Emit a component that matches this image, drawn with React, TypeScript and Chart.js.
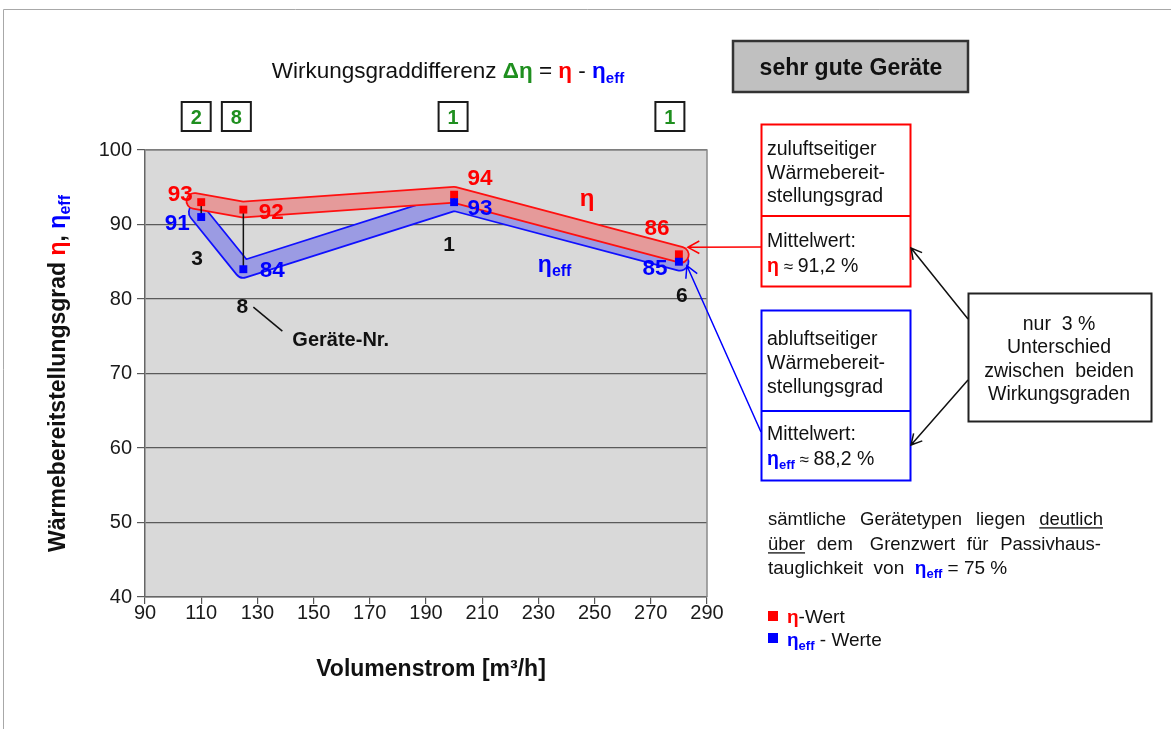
import React, { useEffect, useRef } from 'react';
import { Chart, registerables } from 'chart.js';
Chart.register(...registerables);

const W = 1171, H = 729;
const FONT = '"Liberation Sans", Arial, Helvetica, sans-serif';

// ---- data ----
const flowRates = [110, 125, 200, 280];
const etaValues = [93, 92, 94, 86];
const etaEffValues = [91, 84, 93, 85];
const deviceNumbers = ['3', '8', '1', '6'];
const deviceCounts = ['2', '8', '1', '1'];
const xAxisRange = [90, 290, 20];
const yAxisRange = [40, 100, 10];
const meanEta = '91,2 %';
const meanEtaEff = '88,2 %';
const passivLimit = '75 %';

const RED = '#ff0000', BLUE = '#0000ff', GREEN = '#1f8f1f', BLACK = '#111111';

type Part = { t: string; c?: string; b?: boolean; sub?: boolean; u?: boolean; sm?: boolean };

function partFont(p: Part, size: number) {
  const s = p.sub ? Math.round(size * 0.68) : p.sm ? Math.round(size * 0.85) : size;
  return `${p.b ? 'bold ' : ''}${s}px ${FONT}`;
}
function richWidth(ctx: CanvasRenderingContext2D, parts: Part[], size: number) {
  let w = 0;
  for (const p of parts) { ctx.font = partFont(p, size); w += ctx.measureText(p.t).width; }
  return w;
}
function drawRich(ctx: CanvasRenderingContext2D, parts: Part[], x: number, yc: number, size: number, align = 'left') {
  const tw = richWidth(ctx, parts, size);
  let cx = align === 'center' ? x - tw / 2 : align === 'right' ? x - tw : x;
  const y = yc + size * 0.36;
  ctx.textBaseline = 'alphabetic';
  ctx.textAlign = 'left';
  for (const p of parts) {
    ctx.font = partFont(p, size);
    ctx.fillStyle = p.c || BLACK;
    const w = ctx.measureText(p.t).width;
    const yy = p.sub ? y + size * 0.2 : y;
    ctx.fillText(p.t, cx, yy);
    if (p.u) ctx.fillRect(cx, y + size * 0.14, w, 1.3);
    cx += w;
  }
}
function drawJustified(ctx: CanvasRenderingContext2D, words: Part[][], x0: number, x1: number, yc: number, size: number) {
  const ws = words.map((w) => richWidth(ctx, w, size));
  const total = ws.reduce((a, b) => a + b, 0);
  const gap = (x1 - x0 - total) / (words.length - 1);
  let x = x0;
  words.forEach((w, i) => { drawRich(ctx, w, x, yc, size); x += ws[i] + gap; });
}
function arrowHead(ctx: CanvasRenderingContext2D, fx: number, fy: number, tx: number, ty: number, len = 12) {
  const a = Math.atan2(ty - fy, tx - fx);
  ctx.beginPath();
  ctx.moveTo(fx, fy); ctx.lineTo(tx, ty);
  ctx.moveTo(tx - len * Math.cos(a - 0.5), ty - len * Math.sin(a - 0.5));
  ctx.lineTo(tx, ty);
  ctx.lineTo(tx - len * Math.cos(a + 0.5), ty - len * Math.sin(a + 0.5));
  ctx.stroke();
}
const etaEff = (): Part[] => [{ t: 'η', c: BLUE, b: true }, { t: 'eff', c: BLUE, b: true, sub: true }];

function bandStroke(ctx: CanvasRenderingContext2D, pts: { x: number; y: number }[], extA: number, extB: number, width: number, outline: string, fill: string) {
  const p = pts.map((q) => ({ ...q }));
  const ext = (a: { x: number; y: number }, b: { x: number; y: number }, d: number) => {
    const dx = a.x - b.x, dy = a.y - b.y, l = Math.hypot(dx, dy) || 1;
    return { x: a.x + (dx / l) * d, y: a.y + (dy / l) * d };
  };
  p[0] = ext(pts[0], pts[1], extA);
  p[p.length - 1] = ext(pts[pts.length - 1], pts[pts.length - 2], extB);
  ctx.beginPath();
  p.forEach((q, i) => (i ? ctx.lineTo(q.x, q.y) : ctx.moveTo(q.x, q.y)));
  ctx.lineJoin = 'round';
  ctx.lineCap = 'round';
  ctx.strokeStyle = outline; ctx.lineWidth = width; ctx.stroke();
  ctx.strokeStyle = fill; ctx.lineWidth = width - 3.5; ctx.stroke();
}

const decoPlugin = {
  id: 'deco',
  beforeDraw(chart: any) {
    const { ctx, chartArea: a } = chart;
    ctx.save();
    ctx.fillStyle = '#ffffff';
    ctx.fillRect(0, 0, W, H);
    ctx.strokeStyle = '#a8a8a8';
    ctx.lineWidth = 1;
    ctx.beginPath(); ctx.moveTo(3.5, H); ctx.lineTo(3.5, 9.5); ctx.lineTo(W, 9.5); ctx.stroke();
    ctx.fillStyle = '#d9d9d9';
    ctx.fillRect(a.left, a.top, a.right - a.left, a.bottom - a.top);
    ctx.restore();
  },
  beforeDatasetsDraw(chart: any) {
    const { ctx } = chart;
    const xs = chart.scales.x, ys = chart.scales.y;
    const etaPts = flowRates.map((f, i) => ({ x: xs.getPixelForValue(f), y: ys.getPixelForValue(etaValues[i]) }));
    const effPts = flowRates.map((f, i) => ({ x: xs.getPixelForValue(f), y: ys.getPixelForValue(etaEffValues[i]) }));
    ctx.save();
    bandStroke(ctx, effPts, 6, 1, 19, '#1010ff', '#9b9be3');
    bandStroke(ctx, etaPts, 7, 2, 17.5, '#ff1010', '#e59a9a');
    ctx.strokeStyle = '#111';
    ctx.lineWidth = 1.5;
    ctx.lineCap = 'butt';
    flowRates.forEach((_, i) => {
      ctx.beginPath(); ctx.moveTo(etaPts[i].x, etaPts[i].y); ctx.lineTo(effPts[i].x, effPts[i].y); ctx.stroke();
    });
    ctx.restore();
  },
  afterDraw(chart: any) {
    const { ctx, chartArea: a } = chart;
    const xs = chart.scales.x, ys = chart.scales.y;
    ctx.save();
    // plot border top/right
    ctx.strokeStyle = '#8a8a8a'; ctx.lineWidth = 1.5;
    ctx.beginPath(); ctx.moveTo(a.left, a.top); ctx.lineTo(a.right, a.top); ctx.lineTo(a.right, a.bottom); ctx.stroke();

    // value labels
    const etaOff = [[-21, -9], [28, 1], [26, -18], [-22, -27]];
    const effOff = [[-24, 5], [29, 0], [26, 5], [-24, 5]];
    const devOff = [[-4, 40], [-1, 36], [-5, 41], [3, 33]];
    const boxOff = [-5, -7, -1, -9];
    flowRates.forEach((f, i) => {
      const px = xs.getPixelForValue(f);
      const pe = ys.getPixelForValue(etaValues[i]);
      const pf = ys.getPixelForValue(etaEffValues[i]);
      drawRich(ctx, [{ t: String(etaValues[i]), c: RED, b: true }], px + etaOff[i][0], pe + etaOff[i][1], 22.5, 'center');
      drawRich(ctx, [{ t: String(etaEffValues[i]), c: BLUE, b: true }], px + effOff[i][0], pf + effOff[i][1], 22.5, 'center');
      drawRich(ctx, [{ t: deviceNumbers[i], b: true }], px + devOff[i][0], pf + devOff[i][1], 21, 'center');
      // count boxes
      const bx = px + boxOff[i];
      ctx.strokeStyle = '#1a1a1a'; ctx.lineWidth = 2;
      ctx.strokeRect(bx - 14.5, 102, 29, 29);
      drawRich(ctx, [{ t: deviceCounts[i], c: GREEN, b: true }], bx, 116.5, 20, 'center');
    });
    // Geräte-Nr. pointer from device "8"
    {
      const px = xs.getPixelForValue(flowRates[1]) - 1;
      const py = ys.getPixelForValue(etaEffValues[1]) + 36;
      ctx.strokeStyle = '#111'; ctx.lineWidth = 1.5;
      ctx.beginPath(); ctx.moveTo(px + 11, py + 2); ctx.lineTo(px + 40, py + 26); ctx.stroke();
      drawRich(ctx, [{ t: 'Geräte-Nr.', b: true }], px + 50, py + 34, 20, 'left');
    }
    // series labels
    drawRich(ctx, [{ t: 'η', c: RED, b: true }], xs.getPixelForValue(247.3), ys.getPixelForValue(93.6), 24, 'center');
    drawRich(ctx, etaEff(), xs.getPixelForValue(229.8), ys.getPixelForValue(84.8), 23, 'left');

    // title
    drawRich(ctx, [
      { t: 'Wirkungsgraddifferenz ' },
      { t: 'Δη', c: GREEN, b: true },
      { t: ' = ' },
      { t: 'η', c: RED, b: true },
      { t: ' - ' },
      ...etaEff(),
    ], 448, 70, 22.5, 'center');

    // axis titles
    drawRich(ctx, [{ t: 'Volumenstrom [m³/h]', b: true }], 431, 668, 23, 'center');
    ctx.save();
    ctx.translate(57, (a.top + a.bottom) / 2);
    ctx.rotate(-Math.PI / 2);
    drawRich(ctx, [
      { t: 'Wärmebereitstellungsgrad ', b: true },
      { t: 'η', c: RED, b: true },
      { t: ', ', b: true },
      ...etaEff(),
    ], 0, 0, 23, 'center');
    ctx.restore();

    // sehr gute Geräte
    ctx.fillStyle = '#c0c0c0';
    ctx.fillRect(733, 41, 235, 51);
    ctx.strokeStyle = '#333'; ctx.lineWidth = 2.5;
    ctx.strokeRect(733, 41, 235, 51);
    drawRich(ctx, [{ t: 'sehr gute Geräte', b: true }], 851, 67, 23, 'center');

    const BS = 19.5;
    // red box
    ctx.strokeStyle = RED; ctx.lineWidth = 2;
    ctx.strokeRect(761.5, 124.5, 149, 162);
    ctx.beginPath(); ctx.moveTo(761.5, 216); ctx.lineTo(910.5, 216); ctx.stroke();
    drawRich(ctx, [{ t: 'zuluftseitiger' }], 767, 148, BS);
    drawRich(ctx, [{ t: 'Wärmebereit-' }], 767, 171.5, BS);
    drawRich(ctx, [{ t: 'stellungsgrad' }], 767, 195, BS);
    drawRich(ctx, [{ t: 'Mittelwert:' }], 767, 240, BS);
    drawRich(ctx, [{ t: 'η', c: RED, b: true }, { t: ' ≈ ', sm: true }, { t: meanEta }], 767, 265, BS);
    // blue box
    ctx.strokeStyle = BLUE; ctx.lineWidth = 2;
    ctx.strokeRect(761.5, 310.5, 149, 170);
    ctx.beginPath(); ctx.moveTo(761.5, 411); ctx.lineTo(910.5, 411); ctx.stroke();
    drawRich(ctx, [{ t: 'abluftseitiger' }], 767, 338, BS);
    drawRich(ctx, [{ t: 'Wärmebereit-' }], 767, 362, BS);
    drawRich(ctx, [{ t: 'stellungsgrad' }], 767, 385.5, BS);
    drawRich(ctx, [{ t: 'Mittelwert:' }], 767, 433, BS);
    drawRich(ctx, [...etaEff(), { t: ' ≈ ', sm: true }, { t: meanEtaEff }], 767, 458, BS);
    // black box
    ctx.strokeStyle = '#222'; ctx.lineWidth = 2;
    ctx.strokeRect(968.5, 293.5, 183, 128);
    drawRich(ctx, [{ t: 'nur  3 %' }], 1059, 323, BS, 'center');
    drawRich(ctx, [{ t: 'Unterschied' }], 1059, 346, BS, 'center');
    drawRich(ctx, [{ t: 'zwischen  beiden' }], 1059, 370, BS, 'center');
    drawRich(ctx, [{ t: 'Wirkungsgraden' }], 1059, 393, BS, 'center');

    // arrows
    ctx.lineWidth = 1.5; ctx.strokeStyle = '#111'; ctx.lineCap = 'butt';
    arrowHead(ctx, 968, 319, 911, 248);
    arrowHead(ctx, 968, 380, 911, 445);
    const endX = xs.getPixelForValue(flowRates[3]);
    ctx.strokeStyle = RED;
    arrowHead(ctx, 761, 247, endX + 9, ys.getPixelForValue(etaValues[3]) - 7, 13);
    ctx.strokeStyle = BLUE;
    arrowHead(ctx, 761, 432, endX + 8, ys.getPixelForValue(etaEffValues[3]) + 4, 13);

    // bottom note
    const NS = 18.5;
    drawJustified(ctx, [[{ t: 'sämtliche' }], [{ t: 'Gerätetypen' }], [{ t: 'liegen' }], [{ t: 'deutlich', u: true }]], 768, 1103, 518, NS);
    drawJustified(ctx, [[{ t: 'über', u: true }], [{ t: 'dem' }], [{ t: ' Grenzwert' }], [{ t: 'für' }], [{ t: 'Passivhaus-' }]], 768, 1101, 543, NS);
    drawRich(ctx, [{ t: 'tauglichkeit  von  ' }, ...etaEff(), { t: ' = ' + passivLimit }], 768, 567, 19);

    // legend
    ctx.fillStyle = RED; ctx.fillRect(768, 611, 10, 10);
    drawRich(ctx, [{ t: 'η', c: RED, b: true }, { t: '-Wert' }], 787, 616, 19);
    ctx.fillStyle = BLUE; ctx.fillRect(768, 633, 10, 10);
    drawRich(ctx, [...etaEff(), { t: ' - Werte' }], 787, 639, 19);
    ctx.restore();
  },
};

export default function App() {
  const ref = useRef<HTMLCanvasElement>(null);
  useEffect(() => {
    const tickFont = { family: FONT, size: 20 };
    const chart = new Chart(ref.current as HTMLCanvasElement, {
      type: 'scatter',
      data: {
        datasets: [
          {
            label: 'ηeff',
            data: flowRates.map((f, i) => ({ x: f, y: etaEffValues[i] })),
            backgroundColor: BLUE,
            borderWidth: 0,
            pointStyle: 'rect',
            pointRadius: 5.6,
            showLine: false,
          },
          {
            label: 'η',
            data: flowRates.map((f, i) => ({ x: f, y: etaValues[i] })),
            backgroundColor: RED,
            borderWidth: 0,
            pointStyle: 'rect',
            pointRadius: 5.6,
            showLine: false,
          },
        ],
      },
      options: {
        responsive: false,
        animation: false,
        devicePixelRatio: 1,
        layout: { padding: { top: 150, right: W - 707, bottom: 0, left: 0 } },
        plugins: { legend: { display: false }, tooltip: { enabled: false }, title: { display: false } },
        events: [],
        scales: {
          x: {
            type: 'linear',
            min: xAxisRange[0],
            max: xAxisRange[1],
            ticks: { stepSize: xAxisRange[2], font: tickFont, color: '#1a1a1a', padding: -3, maxRotation: 0, autoSkip: false },
            grid: { drawOnChartArea: false, drawTicks: true, tickLength: 7, color: '#555', lineWidth: 1.2 },
            border: { color: '#666', width: 1.5 },
            afterFit: (s: any) => { s.height = H - 597; },
          },
          y: {
            type: 'linear',
            min: yAxisRange[0],
            max: yAxisRange[1],
            ticks: { stepSize: yAxisRange[2], font: tickFont, color: '#1a1a1a', padding: 5 },
            grid: { color: '#5a5a5a', lineWidth: 1.2, tickLength: 8 },
            border: { color: '#666', width: 1.5 },
            afterFit: (s: any) => { s.width = 145; },
          },
        },
      } as any,
      plugins: [decoPlugin],
    });
    return () => chart.destroy();
  }, []);
  return (
    <div style={{ position: 'absolute', left: 0, top: 0, width: W, height: H }}>
      <canvas ref={ref} width={W} height={H} style={{ display: 'block', width: W, height: H }} />
    </div>
  );
}
